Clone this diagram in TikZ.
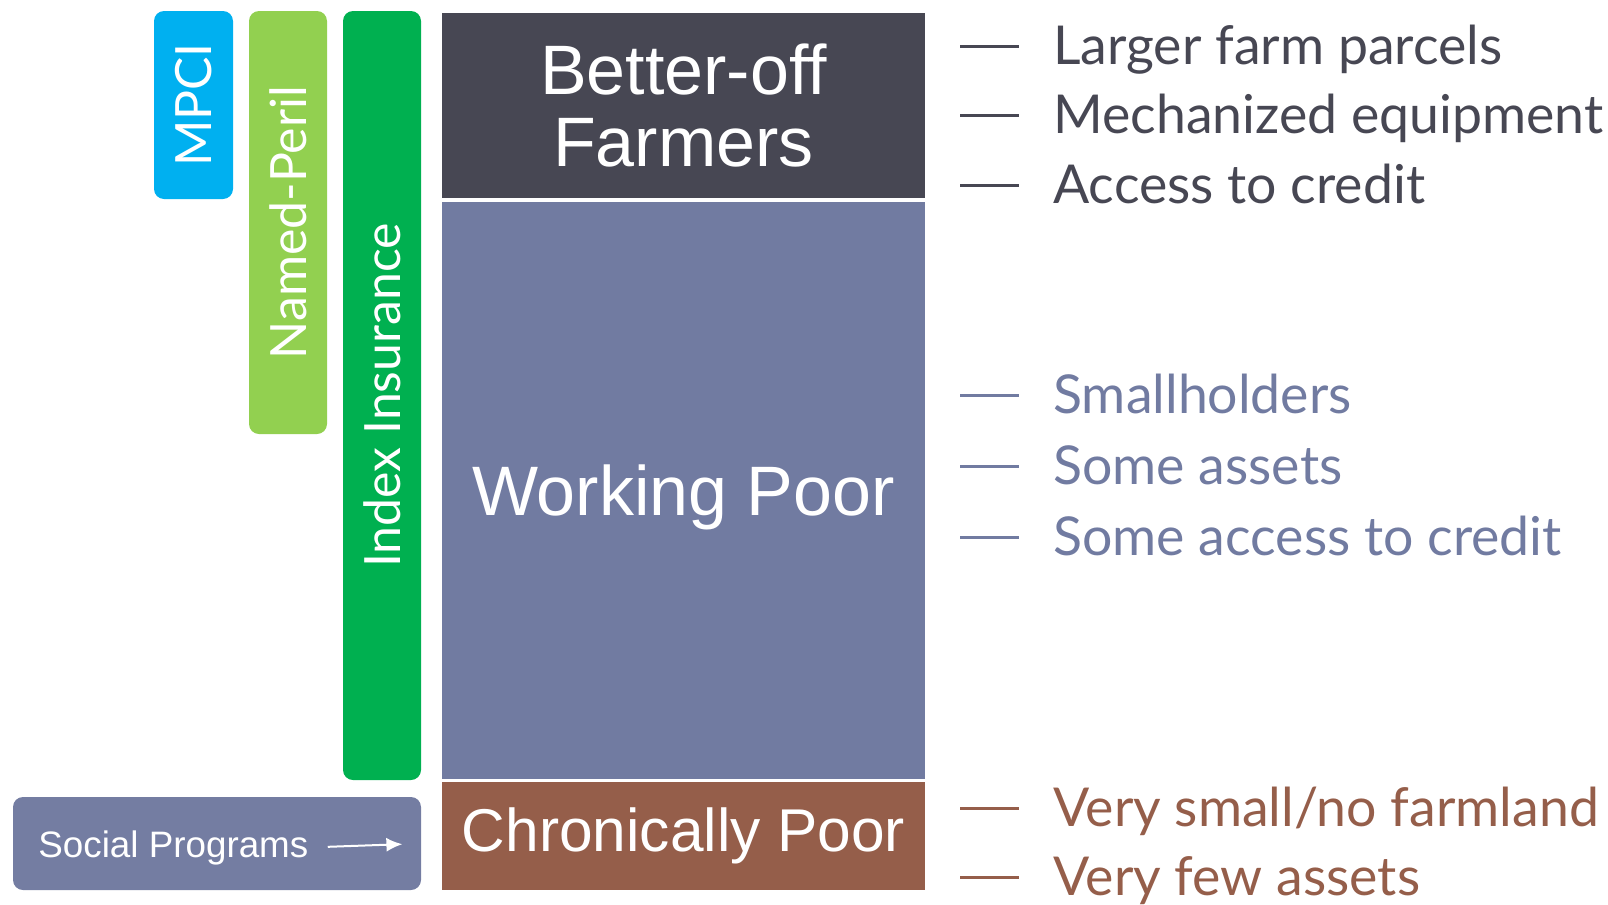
\documentclass[tikz,border=0pt]{standalone}
\usepackage{fontspec}
\usepackage{xcolor}
\usetikzlibrary{arrows.meta}
\setmainfont{Liberation Sans}
\newfontfamily\gillfont{Lato}

\definecolor{betteroff}{HTML}{474753}
\definecolor{workpoor}{HTML}{717BA1}
\definecolor{chronpoor}{HTML}{955E4A}
\definecolor{mpcicol}{HTML}{00B0F0}
\definecolor{perilcol}{HTML}{92D050}
\definecolor{indexcol}{HTML}{00B050}
\definecolor{socialcol}{HTML}{747DA2}

% dash in front of each trait
\newcommand{\bul}{\rule[8.25pt]{29.5pt}{1.5pt}\hspace{17pt}}

\begin{document}
\begin{tikzpicture}[x=0.5pt,y=-0.5pt,
	tier/.style={inner sep=0pt, text=white, align=center, minimum width=241.5pt, font=\fontsize{35}{36}\selectfont},
	cover/.style={rotate=90, rounded corners=5pt, inner sep=0pt, text=white, font=\gillfont\fontsize{25}{25}\selectfont},
	trait/.style={anchor=base west, inner sep=0pt, font=\gillfont\fontsize{26.8}{26.8}\selectfont}]
	\useasboundingbox (0,0) rectangle (1608,905);
	% tiers
	\node[tier, fill=betteroff, minimum height=92.5pt] (better) at (683.5,105.5) {Better-off\\Farmers};
	\node[tier, fill=workpoor, minimum height=288.5pt, text depth=0pt] (working) at (683.5,490.5) {Working Poor};
	\node[tier, fill=chronpoor, minimum height=54pt, font=\fontsize{30.2}{30.2}\selectfont] (chronic) at (683.5,836) {Chronically Poor};
	% insurance products
	\node[cover, fill=mpcicol, minimum width=94pt, minimum height=39.5pt] (mpci) at (193.5,105) {MPCI};
	\node[cover, fill=perilcol, minimum width=211.5pt, minimum height=39pt] (peril) at (288,222.5) {Named-Peril};
	\node[cover, fill=indexcol, minimum width=384.5pt, minimum height=39pt] (index) at (382,395.5) {Index Insurance};
	% social programs
	\node[fill=socialcol, rounded corners=5pt, minimum width=204pt, minimum height=46.5pt, inner sep=0pt] (social) at (217,843.5) {};
	\node[anchor=base west, inner sep=0pt, text=white, font=\fontsize{18.4}{18.4}\selectfont] (soctext) at (38,857) {Social Programs};
	\draw[white, line width=1pt, -{Latex[length=8pt,width=7pt]}, shorten <=9.5pt, shorten >=9.5pt] (soctext.east) -- (social.east);
	% traits
	\node[trait, text=betteroff] (t1) at (960,64) {\bul Larger farm parcels};
	\node[trait, text=betteroff] (t2) at (960,133) {\bul Mechanized equipment};
	\node[trait, text=betteroff] (t3) at (960,203) {\bul Access to credit};
	\node[trait, text=workpoor] (t4) at (960,413) {\bul Smallholders};
	\node[trait, text=workpoor] (t5) at (960,484) {\bul Some assets};
	\node[trait, text=workpoor] (t6) at (960,555) {\bul Some access to credit};
	\node[trait, text=chronpoor] (t7) at (960,826) {\bul Very small/no farmland};
	\node[trait, text=chronpoor] (t8) at (960,895) {\bul Very few assets};
\end{tikzpicture}
\end{document}
